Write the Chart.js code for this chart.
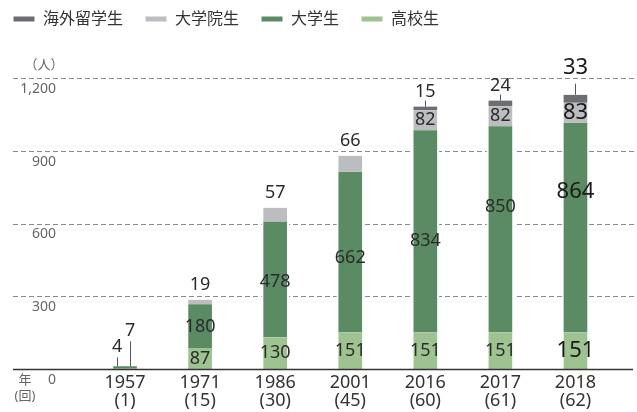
<!DOCTYPE html>
<html>
<head>
<meta charset="utf-8">
<script src="https://cdn.jsdelivr.net/npm/chart.js@4.4.1/dist/chart.umd.min.js"></script>
<style>
  html, body { margin: 0; padding: 0; background: #fff; }
  #wrap { position: relative; width: 637px; height: 412px; }
</style>
</head>
<body>
<div id="wrap"><canvas id="chart"></canvas></div>
<script>
// data
const years = ["1957", "1971", "1986", "2001", "2016", "2017", "2018"];
const rounds = ["(1)", "(15)", "(30)", "(45)", "(60)", "(61)", "(62)"];
const highSchool = [4, 87, 130, 151, 151, 151, 151];
const university = [7, 180, 478, 662, 834, 850, 864];
const graduate = [0, 19, 57, 66, 82, 82, 83];
const overseas = [0, 0, 0, 0, 15, 24, 33];
const yTicks = [0, 300, 600, 900, 1200];

const FONT = "'Noto Sans', 'Noto Sans CJK JP', sans-serif";
const colors = {
  overseas: "#6d6e72",
  graduate: "#bcbdc1",
  university: "#5b8b63",
  highSchool: "#9dc490",
};

// the university numbers are not centred in the original, nudge them
const universityNudge = [0, 1, 2, 6, 10, -22, -36];

// bars get a thin white edge so the dashed grid stops short of them
const barStyle = {
  barThickness: 27,
  borderColor: "#fff",
  borderWidth: { left: 2, right: 2, top: 0, bottom: 0 },
  borderSkipped: false,
};

// grid, baseline and the extra axis words
const framePlugin = {
  id: "frame",
  beforeDatasetsDraw(chart) {
    const { ctx, scales: { y } } = chart;
    ctx.save();
    ctx.strokeStyle = "#8a8a8a";
    ctx.lineWidth = 1;
    ctx.setLineDash([5, 3]);
    yTicks.forEach((v) => {
      if (v === 0) return;
      const py = Math.round(y.getPixelForValue(v)) + 0.5;
      ctx.beginPath();
      ctx.moveTo(13, py);
      ctx.lineTo(chart.width, py);
      ctx.stroke();
    });
    ctx.restore();
  },
  afterDatasetsDraw(chart) {
    const { ctx, scales: { y } } = chart;
    ctx.save();
    // baseline
    const by = Math.round(y.getPixelForValue(0)) + 0.5;
    ctx.strokeStyle = "#333";
    ctx.lineWidth = 1.5;
    ctx.beginPath();
    ctx.moveTo(13, by);
    ctx.lineTo(633, by);
    ctx.stroke();

    ctx.fillStyle = "#666";
    ctx.font = "13px " + FONT;
    ctx.textAlign = "center";
    ctx.textBaseline = "middle";
    ctx.fillText("（人）", 44, y.getPixelForValue(1200) - 13);
    ctx.fillText("年", 25, by + 11);
    ctx.fillText("(回)", 25, by + 27);

    drawValueLabels(chart);
    ctx.restore();
  },
};

function drawValueLabels(chart) {
  const { ctx } = chart;
  const last = years.length - 1;
  const setFont = (i) => {
    ctx.font = (i === last ? "22px " : "18px ") + FONT;
    ctx.fillStyle = i === last ? "#1a1a1a" : "#2b2b2b";
  };
  const leader = (lx, y0, y1) => {
    ctx.strokeStyle = "#555";
    ctx.lineWidth = 1;
    ctx.beginPath();
    ctx.moveTo(Math.round(lx) + 0.5, y0);
    ctx.lineTo(Math.round(lx) + 0.5, y1);
    ctx.stroke();
  };
  ctx.textAlign = "center";
  ctx.textBaseline = "middle";

  chart.data.datasets.forEach((ds, di) => {
    const meta = chart.getDatasetMeta(di);
    meta.data.forEach((bar, i) => {
      const v = ds.data[i];
      if (!v) return;
      setFont(i);
      const top = bar.y;
      const mid = (bar.y + bar.base) / 2;
      if (i === 0) {
        // first year: bars too thin, labels hang on leader lines
        const lx = di === 0 ? bar.x - 8 : bar.x + 5;
        const len = di === 0 ? 9 : 25;
        const barTop = chart.getDatasetMeta(1).data[0].y;
        leader(lx, barTop, barTop - len);
        ctx.fillText(String(v), lx, barTop - len - 10);
        return;
      }
      if (ds.key === "overseas") {
        const len = i === last ? 11 : 6;
        leader(bar.x, top, top - len);
        ctx.fillText(String(v), bar.x, top - len - (i === last ? 16 : 9));
        return;
      }
      if (ds.key === "graduate" && !overseas[i]) {
        ctx.fillText(String(v), bar.x, top - 15);
        return;
      }
      const nudge = ds.key === "university" ? universityNudge[i] : 0;
      ctx.fillText(String(v), bar.x, mid + nudge);
    });
  });
}

// keep room between legend and plot
const legendSpace = {
  id: "legendSpace",
  beforeInit(chart) {
    const fit = chart.legend.fit;
    chart.legend.fit = function () {
      fit.bind(chart.legend)();
      this.height += 41;
    };
  },
};

new Chart(document.getElementById("chart"), {
  type: "bar",
  data: {
    labels: years.map((yr, i) => [yr, rounds[i]]),
    datasets: [
      { key: "highSchool", label: "高校生", data: highSchool, backgroundColor: colors.highSchool, ...barStyle },
      { key: "university", label: "大学生", data: university, backgroundColor: colors.university, ...barStyle },
      { key: "graduate", label: "大学院生", data: graduate, backgroundColor: colors.graduate, ...barStyle },
      { key: "overseas", label: "海外留学生", data: overseas, backgroundColor: colors.overseas, ...barStyle },
    ],
  },
  options: {
    responsive: true,
    maintainAspectRatio: false,
    animation: false,
    layout: { padding: { top: -11, left: -9, right: 24, bottom: -3 } },
    scales: {
      x: {
        stacked: true,
        grid: { display: false, drawTicks: false },
        border: { display: false },
        ticks: {
          color: "#333",
          padding: 5,
          font: { family: FONT, size: 18, lineHeight: 1 },
          maxRotation: 0,
          autoSkip: false,
        },
      },
      y: {
        stacked: true,
        min: 0,
        max: 1200,
        afterBuildTicks(scale) {
          scale.ticks = yTicks.map((v) => ({ value: v }));
        },
        afterFit(scale) {
          scale.width = 96.5;
        },
        grid: { display: false, drawTicks: false },
        border: { display: false },
        ticks: {
          color: "#666",
          padding: 31.5,
          labelOffset: 11,
          font: { family: FONT, size: 14 },
          callback: (v) => v.toLocaleString("en-US"),
        },
      },
    },
    plugins: {
      legend: {
        position: "top",
        align: "start",
        reverse: true,
        labels: {
          boxWidth: 22,
          boxHeight: 6,
          padding: 22,
          color: "#333",
          font: { family: FONT, size: 16 },
        },
      },
      tooltip: { enabled: false },
    },
  },
  plugins: [framePlugin, legendSpace],
});
</script>
</body>
</html>
